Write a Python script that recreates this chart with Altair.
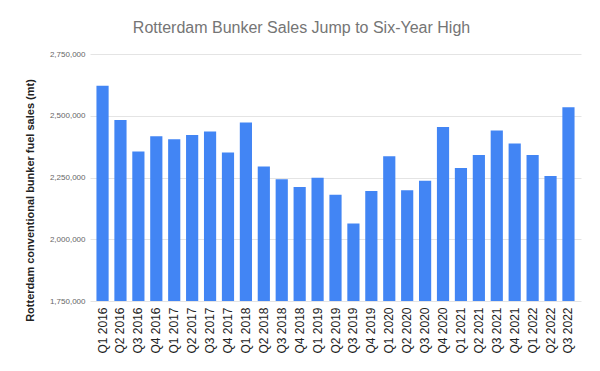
import altair as alt
import pandas as pd

quarters = ["Q1 2016", "Q2 2016", "Q3 2016", "Q4 2016",
            "Q1 2017", "Q2 2017", "Q3 2017", "Q4 2017",
            "Q1 2018", "Q2 2018", "Q3 2018", "Q4 2018",
            "Q1 2019", "Q2 2019", "Q3 2019", "Q4 2019",
            "Q1 2020", "Q2 2020", "Q3 2020", "Q4 2020",
            "Q1 2021", "Q2 2021", "Q3 2021", "Q4 2021",
            "Q1 2022", "Q2 2022", "Q3 2022"]
sales = [2621000, 2483000, 2355000, 2417000,
         2405000, 2422000, 2436000, 2351000,
         2473000, 2295000, 2243000, 2212000,
         2249000, 2180000, 2064000, 2195000,
         2336000, 2198000, 2237000, 2454000,
         2288000, 2341000, 2440000, 2388000,
         2341000, 2256000, 2534000]
y_ticks = [1750000, 2000000, 2250000, 2500000, 2750000]

df = pd.DataFrame({"quarter": quarters, "sales": sales})

chart = alt.Chart(df).mark_bar(color="#4285F4", clip=True).encode(
    x=alt.X("quarter:N", sort=quarters, title=None,
            scale=alt.Scale(paddingInner=0.32, paddingOuter=0.36),
            axis=alt.Axis(labelAngle=-90, labelFontSize=12, labelColor="#222222",
                          labelFont="Liberation Sans", ticks=False, domain=False,
                          labelPadding=6, labelAlign="right", labelBaseline="middle",
                          zindex=1)),
    y=alt.Y("sales:Q", title="Rotterdam conventional bunker fuel sales (mt)",
            scale=alt.Scale(domain=[1750000, 2750000], nice=False, zero=False),
            axis=alt.Axis(values=y_ticks, format=",.0f", labelFontSize=8,
                          labelColor="#666666", labelFont="Liberation Sans",
                          ticks=False, domain=False, labelPadding=5,
                          gridColor="#e4e4e4", gridWidth=1,
                          titleFont="Liberation Sans", titleFontSize=11,
                          titleFontWeight="bold", titleColor="#222222",
                          titleY=146, titlePadding=14)),
).properties(
    width=491, height=247,
    title=alt.TitleParams("Rotterdam Bunker Sales Jump to Six-Year High",
                          font="Liberation Sans", fontSize=16, fontWeight="normal",
                          color="#757575", anchor="middle", dx=-34, offset=14),
    autosize=alt.AutoSizeParams(type="none"),
    padding={"left": 82, "top": 46, "right": 10, "bottom": 60},
).configure_view(stroke=None)

chart.save("out.html", embed_options={"renderer": "svg", "actions": False})
